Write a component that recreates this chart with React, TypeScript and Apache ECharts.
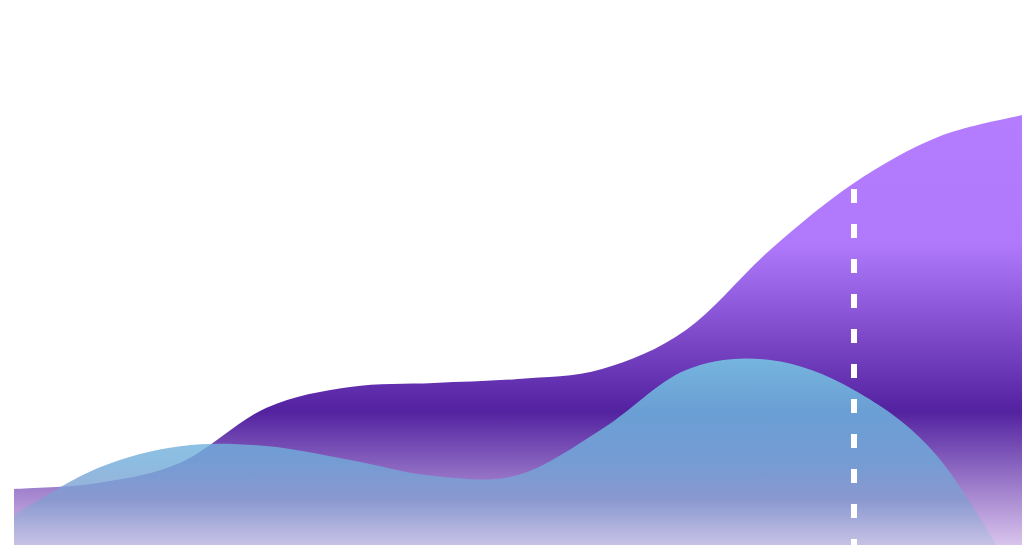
import React, { useEffect, useRef } from "react";
import * as echarts from "echarts";

const categories = ["1", "2", "3", "4", "5", "6", "7", "8", "9", "10", "11", "12", "13"];
const purpleValues = [56, 62, 83, 137, 158, 162, 166, 176, 215, 295, 362, 408, 430];
const blueValues = [30, 77, 99, 99, 85, 69, 70, 116, 175, 185, 155, 88, -43];
const markerIndex = 10;
const markerValue = 356;

function areaPath(values: number[], api: any): string {
  const pts = values.map((v, i) => api.coord([i, v]));
  const n = pts.length;
  let d = `M${pts[0][0]},${pts[0][1]}`;
  for (let i = 0; i < n - 1; i++) {
    const p0 = pts[Math.max(i - 1, 0)];
    const p1 = pts[i];
    const p2 = pts[i + 1];
    const p3 = pts[Math.min(i + 2, n - 1)];
    const c1x = p1[0] + (p2[0] - p0[0]) / 6;
    const c1y = p1[1] + (p2[1] - p0[1]) / 6;
    const c2x = p2[0] - (p3[0] - p1[0]) / 6;
    const c2y = p2[1] - (p3[1] - p1[1]) / 6;
    d += ` C${c1x},${c1y} ${c2x},${c2y} ${p2[0]},${p2[1]}`;
  }
  const bEnd = api.coord([n - 1, 0]);
  const bStart = api.coord([0, 0]);
  d += ` L${bEnd[0]},${bEnd[1]} L${bStart[0]},${bStart[1]} Z`;
  return d;
}

export default function App() {
  const ref = useRef<HTMLDivElement>(null);
  useEffect(() => {
    if (!ref.current) return;
    const chart = echarts.init(ref.current, null, { renderer: "svg" });
    const purpleGradient = new echarts.graphic.LinearGradient(
      0, 115, 0, 545,
      [
        { offset: 0, color: "#B47CFF" },
        { offset: 0.3, color: "#B079FC" },
        { offset: 0.69, color: "#5322A0" },
        { offset: 1, color: "#D8C4EC" },
      ],
      true
    );
    const blueGradient = new echarts.graphic.LinearGradient(
      0, 357, 0, 545,
      [
        { offset: 0, color: "#76D3E6" },
        { offset: 0.3, color: "#70BDE1" },
        { offset: 0.55, color: "#70ACDA" },
        { offset: 0.76, color: "#829BCF" },
        { offset: 1, color: "#C2C2E4" },
      ],
      true
    );
    chart.setOption({
      animation: false,
      backgroundColor: "#ffffff",
      grid: { left: 14, right: 2, top: 0, bottom: 8 },
      xAxis: {
        type: "category",
        data: categories,
        boundaryGap: false,
        show: false,
      },
      yAxis: { type: "value", min: 0, max: 545, show: false },
      series: [
        {
          type: "custom",
          clip: true,
          silent: true,
          data: [[0, purpleValues[0]]],
          renderItem: (params: any, api: any) => ({
            type: "path",
            shape: { pathData: areaPath(purpleValues, api) },
            style: { fill: purpleGradient, stroke: "none" },
          }),
        },
        {
          type: "custom",
          clip: true,
          silent: true,
          data: [[0, blueValues[0]]],
          renderItem: (params: any, api: any) => {
            const top = api.coord([markerIndex, markerValue]);
            const bottom = api.coord([markerIndex, 0]);
            return {
              type: "group",
              children: [
                {
                  type: "path",
                  shape: { pathData: areaPath(blueValues, api) },
                  style: { fill: blueGradient, stroke: "none", opacity: 0.8 },
                },
                {
                  type: "line",
                  shape: { x1: top[0], y1: top[1], x2: bottom[0], y2: bottom[1] },
                  style: { stroke: "#ffffff", lineWidth: 6, lineDash: [14, 21] },
                },
              ],
            };
          },
        },
      ],
    });
    return () => chart.dispose();
  }, []);
  return (
    <div
      ref={ref}
      style={{ position: "absolute", left: 0, top: 0, width: 1024, height: 553 }}
    />
  );
}
